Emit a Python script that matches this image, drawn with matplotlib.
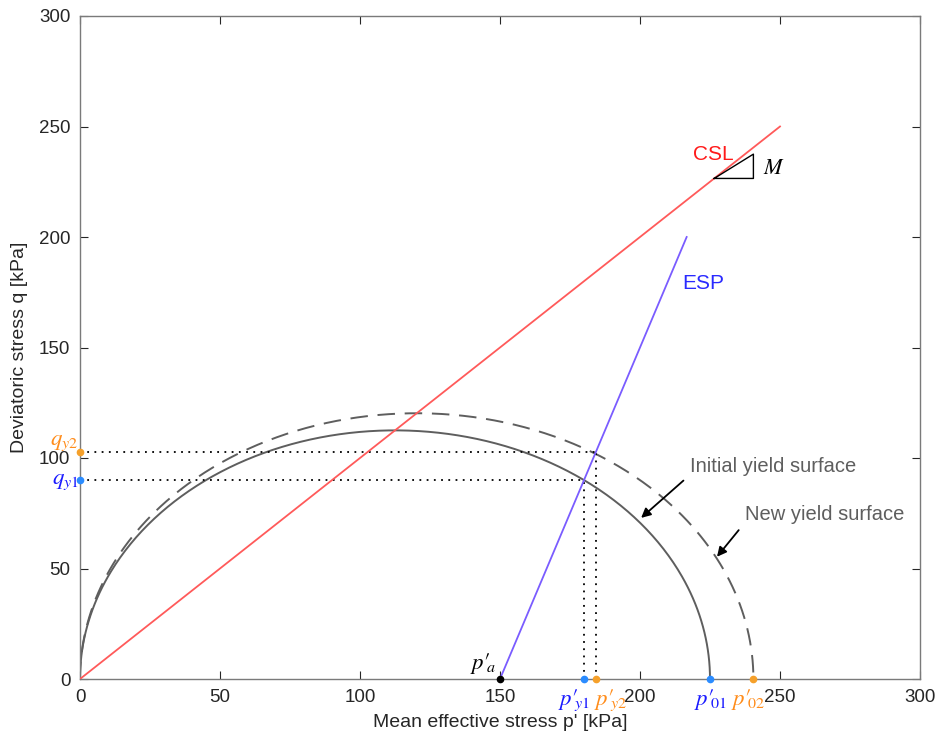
import numpy as np
import matplotlib
matplotlib.use("Agg")
import matplotlib.pyplot as plt

# model parameters
M = 1.0                 # slope of CSL
csl_p_end = 250
p0_initial = 225        # p'_01
p0_new = 240.5          # p'_02
p_a = 150               # start of effective stress path
esp_slope = 3.0
esp_q_end = 200

# yield points
p_y = [180, 184.2]
q_y = [90, 102.6]

x_ticks = [0, 50, 100, 150, 200, 250, 300]
y_ticks = [0, 50, 100, 150, 200, 250, 300]

blue_txt = "#1a1aff"
orange_txt = "#ff8c1a"
blue_dot = "#2b8cff"
orange_dot = "#f5a02a"
gray = "#5e5e5e"

plt.rcParams["font.family"] = ["Liberation Sans", "DejaVu Sans"]
plt.rcParams["mathtext.fontset"] = "stix"

fig = plt.figure(figsize=(9.4, 7.44), dpi=100)
ax = fig.add_axes([80 / 940, 1 - 679 / 744, 840 / 940, 663 / 744])


def yield_surface(p0):
    t = np.linspace(0, np.pi, 400)
    p = p0 / 2 * (1 - np.cos(t))
    q = M * p0 / 2 * np.sin(t)
    return p, q


# CSL
ax.plot([0, csl_p_end], [0, M * csl_p_end], color="#ff5a5a", lw=1.3, zorder=3)

# yield surfaces
p, q = yield_surface(p0_initial)
ax.plot(p, q, color=gray, lw=1.4, zorder=2)
p, q = yield_surface(p0_new)
ax.plot(p, q, color=gray, lw=1.4, dashes=(9, 5), zorder=2)

# effective stress path
esp_p_end = p_a + esp_q_end / esp_slope
ax.plot([p_a, esp_p_end], [0, esp_q_end], color="#7a5cff", lw=1.3, zorder=3)

# dotted projections
for px, qx in zip(p_y, q_y):
    ax.plot([0, px], [qx, qx], color="black", lw=1.3, ls=(0, (1, 3)), zorder=2)
    ax.plot([px, px], [0, qx], color="black", lw=1.3, ls=(0, (1, 3)), zorder=2)

# markers on axes
ax.plot([p_a], [0], "o", color="black", ms=4.5, clip_on=False, zorder=5)
ax.plot([p_y[0], p0_initial], [0, 0], "o", color=blue_dot, ms=4.5, clip_on=False, zorder=5)
ax.plot([p_y[1], p0_new], [0, 0], "o", color=orange_dot, ms=4.5, clip_on=False, zorder=5)
ax.plot([0], [q_y[0]], "o", color=blue_dot, ms=4.5, clip_on=False, zorder=5)
ax.plot([0], [q_y[1]], "o", color=orange_dot, ms=4.5, clip_on=False, zorder=5)

# M triangle
tri_x = [226.5, 240.5, 240.5, 226.5]
tri_y = [226.5, 237.5, 226.5, 226.5]
ax.plot(tri_x, tri_y, color="black", lw=1.0, zorder=3)
ax.text(244, 231, r"$M$", fontsize=16, va="center", ha="left")

ax.text(219, 237.5, "CSL", color="#ff1a1a", fontsize=15, ha="left", va="center")
ax.text(215, 179, "ESP", color="#2a2aff", fontsize=15, ha="left", va="center")

# axis-point labels
lab = dict(fontsize=16.5, va="center", clip_on=False)
ax.text(148.5, 7, r"$p\prime_{\!\!a}$", color="black", ha="right", **lab)
ax.text(182, -9.5, r"$p\prime_{\!\!y1}$", color=blue_txt, ha="right", **lab)
ax.text(183.5, -9.5, r"$p\prime_{\!\!y2}$", color=orange_txt, ha="left", **lab)
ax.text(p0_initial, -9.5, r"$p\prime_{\!\!01}$", color=blue_txt, ha="center", **lab)
ax.text(p0_new - 2, -9.5, r"$p\prime_{\!\!02}$", color=orange_txt, ha="center", **lab)
ax.text(-0.5, q_y[0], r"$q_{y1}$", color=blue_txt, ha="right", **lab)
ax.text(-0.5, q_y[1] + 5, r"$q_{y2}$", color=orange_txt, ha="right", **lab)

# annotations
ax.annotate("Initial yield surface", xy=(200.4, 72.9), xytext=(218, 96),
            color=gray, fontsize=14.5, ha="left", va="center",
            arrowprops=dict(arrowstyle="-|>", color="black", lw=1.3,
                            shrinkA=4, shrinkB=0, mutation_scale=14,
                            relpos=(0, 0.1)))
ax.annotate("New yield surface", xy=(227.5, 55.3), xytext=(237.5, 74.3),
            color=gray, fontsize=14.5, ha="left", va="center",
            arrowprops=dict(arrowstyle="-|>", color="black", lw=1.3,
                            shrinkA=4, shrinkB=0, mutation_scale=14,
                            relpos=(0, 0.1)))

ax.set_xlim(0, 300)
ax.set_ylim(0, 300)
ax.set_xticks(x_ticks)
ax.set_yticks(y_ticks)
ax.tick_params(direction="in", length=6, width=0.8, colors="#262626",
               labelsize=13.5, top=True, right=True, pad=7)
for s in ax.spines.values():
    s.set_color("#7a7a7a")
    s.set_linewidth(1.0)
ax.set_xlabel("Mean effective stress p' [kPa]", fontsize=14, color="#262626", labelpad=6)
ax.set_ylabel("Deviatoric stress q [kPa]", fontsize=14, color="#262626", labelpad=8)

fig.savefig("out.png", dpi=100)
